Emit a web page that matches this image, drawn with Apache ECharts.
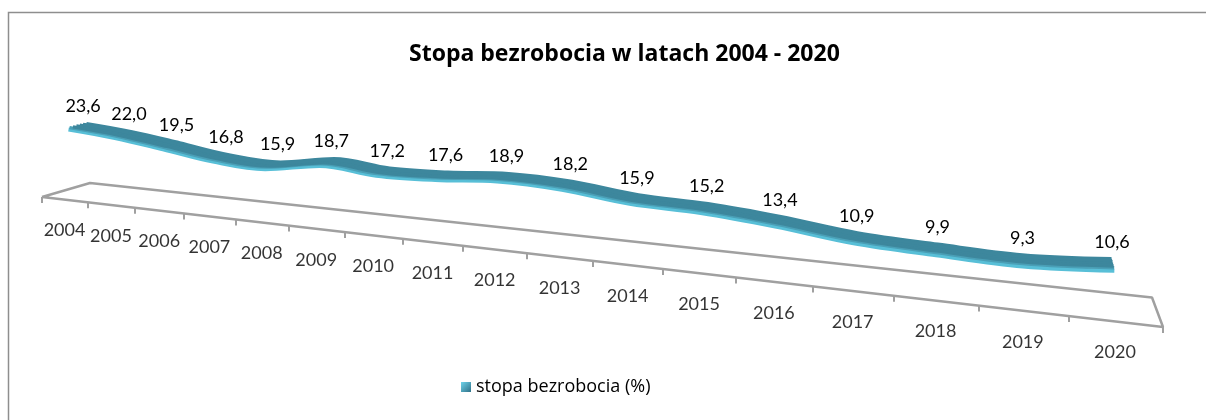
<!DOCTYPE html>
<html>
<head>
<meta charset="utf-8">
<script src="https://cdn.jsdelivr.net/npm/echarts@6/dist/echarts.min.js"></script>
<style>
  html, body { margin: 0; padding: 0; background: #fff; }
  #chart { width: 1206px; height: 420px; }
</style>
</head>
<body>
<div id="chart"></div>
<script>
var titleText = 'Stopa bezrobocia w latach 2004 - 2020';
var seriesName = 'stopa bezrobocia (%)';
var years = ['2004', '2005', '2006', '2007', '2008', '2009', '2010', '2011', '2012',
             '2013', '2014', '2015', '2016', '2017', '2018', '2019', '2020'];
var rates = [23.6, 22.0, 19.5, 16.8, 15.9, 18.7, 17.2, 17.6, 18.9,
             18.2, 15.9, 15.2, 13.4, 10.9, 9.9, 9.3, 10.6];

// 3D look (Excel style perspective): floor corners on the canvas
// front-left, front-right, back-right, back-left
var floorCorners = [[42, 197], [1163, 327], [1152, 297.5], [90, 183]];
var lift = 2.71;          // px per percentage point (before perspective)
var floorValue = -2.3;    // value level of the floor plane
var ribbonFront = 0.1, ribbonBack = 0.45;   // depth of the ribbon (0 front, 1 back)

// square -> quad homography
function quadMap(p0, p1, p2, p3) {
  var dx1 = p1[0] - p2[0], dx2 = p3[0] - p2[0], sx = p0[0] - p1[0] + p2[0] - p3[0];
  var dy1 = p1[1] - p2[1], dy2 = p3[1] - p2[1], sy = p0[1] - p1[1] + p2[1] - p3[1];
  var det = dx1 * dy2 - dx2 * dy1;
  var g = (sx * dy2 - dx2 * sy) / det;
  var h = (dx1 * sy - sx * dy1) / det;
  return {
    a: p1[0] - p0[0] + g * p1[0], b: p3[0] - p0[0] + h * p3[0], c: p0[0],
    d: p1[1] - p0[1] + g * p1[1], e: p3[1] - p0[1] + h * p3[1], f: p0[1],
    g: g, h: h
  };
}
var H = quadMap(floorCorners[0], floorCorners[1], floorCorners[2], floorCorners[3]);

// u = position along the category axis (0..n), t = depth, v = value
function project(u, t, v) {
  var s = u / years.length;
  var w = H.g * s + H.h * t + 1;
  return [(H.a * s + H.b * t + H.c) / w,
          (H.d * s + H.e * t + H.f - lift * (v - floorValue)) / w];
}

function ribbonAt(t, drop) {
  return rates.map(function (v, i) {
    var p = project(i + 0.5, t, v - drop);
    return [p[0], p[1], v];
  });
}
var yearData = years.map(function (y, i) {
  var p = project(i + 0.5, 0, floorValue);
  return [p[0], p[1], y];
});
var floorData = [[0, 0], [years.length, 0], [years.length, 1], [0, 1], [0, 0]].map(function (c) {
  return project(c[0], c[1], floorValue);
});
var tickData = [];
for (var j = 0; j <= years.length; j++) {
  var p = project(j, 0, floorValue);
  tickData.push({ coords: [[p[0], p[1]], [p[0], p[1] + 6]] });
}

var font = 'Lato, "Open Sans", sans-serif';

// ribbon: front face (light) + top face built from a few lines across the depth
var ribbonSeries = [{
  name: 'front',
  type: 'line',
  data: ribbonAt(ribbonFront - 0.02, 0.6),
  smooth: 0.35,
  symbol: 'none',
  silent: true,
  lineStyle: { color: '#58bfd7', width: 4 },
  z: 3
}];
var steps = 6;
for (var k = 0; k < steps; k++) {
  var t = ribbonFront + (ribbonBack - ribbonFront) * k / (steps - 1);
  ribbonSeries.push({
    name: 'top' + k,
    type: 'line',
    data: ribbonAt(t, 0),
    smooth: 0.35,
    symbol: 'none',
    silent: true,
    lineStyle: { color: k == 0 ? '#4a9fb6' : '#3d879d', width: 3.5 },
    z: 4
  });
}
// labelled line inside the ribbon, carries the legend entry
ribbonSeries.push({
  name: seriesName,
  type: 'line',
  data: ribbonAt(0.38, 0),
  smooth: 0.35,
  symbol: 'circle',
  symbolSize: 1,
  showAllSymbol: true,
  color: '#3d879d',
  itemStyle: { color: '#3d879d' },
  lineStyle: { color: '#3d879d', width: 3 },
  label: {
    show: true,
    position: 'top',
    distance: 9,
    formatter: function (p) { return p.value[2].toFixed(1).replace('.', ','); },
    fontFamily: font,
    fontSize: 18,
    color: '#000'
  },
  labelLayout: { hideOverlap: false },
  z: 5
});

var myChart = echarts.init(document.getElementById('chart'));
myChart.setOption({
  animation: false,
  title: {
    text: titleText,
    left: 404,
    top: 38,
    textStyle: { fontFamily: '"Open Sans"', fontSize: 23, fontWeight: 'bold', color: '#000' }
  },
  legend: {
    left: 456,
    top: 373,
    itemWidth: 10,
    itemHeight: 10,
    itemGap: 10,
    textStyle: { fontFamily: '"Open Sans"', fontSize: 18, color: '#000' },
    data: [{
      name: seriesName,
      icon: 'rect',
      itemStyle: {
        color: new echarts.graphic.LinearGradient(0, 0, 1, 1, [
          { offset: 0, color: '#6fd3ea' }, { offset: 1, color: '#2f7188' }
        ])
      }
    }]
  },
  graphic: [{
    type: 'rect',
    shape: { x: 8.5, y: 12.5, width: 1300, height: 500 },
    style: { fill: 'none', stroke: '#8e8e8e', lineWidth: 1.5 },
    silent: true
  }],
  grid: { left: 0, right: 0, top: 0, bottom: 0 },
  xAxis: { type: 'value', min: 0, max: 1206, show: false },
  yAxis: { type: 'value', min: 0, max: 420, inverse: true, show: false },
  series: [
    {
      name: 'floor',
      type: 'line',
      data: floorData,
      symbol: 'none',
      silent: true,
      lineStyle: { color: '#a0a0a0', width: 2.5 },
      z: 1
    },
    {
      name: 'ticks',
      type: 'lines',
      coordinateSystem: 'cartesian2d',
      data: tickData,
      silent: true,
      lineStyle: { color: '#a0a0a0', width: 2, opacity: 1 },
      z: 1
    },
    {
      name: 'years',
      type: 'scatter',
      data: yearData,
      symbolSize: 0,
      silent: true,
      label: {
        show: true,
        position: 'inside',
        offset: [0, 31],
        formatter: function (p) { return p.value[2]; },
        fontFamily: font,
        fontSize: 18,
        color: '#000'
      },
      z: 2
    }
  ].concat(ribbonSeries)
});
</script>
</body>
</html>
